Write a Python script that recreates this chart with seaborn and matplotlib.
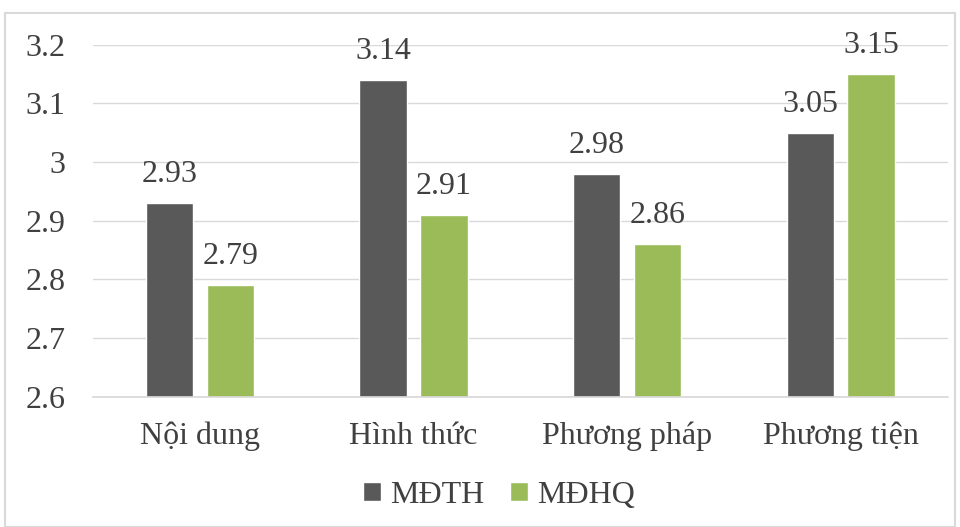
import seaborn as sns
import matplotlib.pyplot as plt
import pandas as pd
from matplotlib.patches import Rectangle
from matplotlib.ticker import FuncFormatter

categories = ['Nội dung', 'Hình thức', 'Phương pháp', 'Phương tiện']
mdth = [2.93, 3.14, 2.98, 3.05]
mdhq = [2.79, 2.91, 2.86, 3.15]
series = ['MĐTH', 'MĐHQ']
colors = ['#595959', '#9BBB59']

df = pd.DataFrame({
    'cat': categories * 2,
    'val': mdth + mdhq,
    'series': [series[0]] * 4 + [series[1]] * 4,
})

sns.set_theme(style='white')
plt.rcParams['font.family'] = ['Liberation Serif', 'DejaVu Serif']
text_col = '#404040'
fs = 23

fig = plt.figure(figsize=(9.6, 5.27), dpi=100)
ax = fig.add_axes([0.097, 0.247, 0.89, 0.668])

sns.barplot(data=df, x='cat', y='val', hue='series', palette=colors,
            width=0.57, gap=0.22, ax=ax, saturation=1, legend=True)

ax.set_ylim(2.6, 3.2)
ax.set_yticks([2.6, 2.7, 2.8, 2.9, 3.0, 3.1, 3.2])
ax.yaxis.set_major_formatter(FuncFormatter(lambda v, p: f'{v:g}'))
ax.grid(axis='y', color='#d9d9d9', linewidth=1)
ax.set_axisbelow(True)
for s in ['left', 'right', 'top']:
    ax.spines[s].set_visible(False)
ax.spines['bottom'].set_color('#d9d9d9')
ax.tick_params(axis='both', labelsize=fs, colors=text_col, length=0)
ax.tick_params(axis='x', pad=18)
ax.tick_params(axis='y', pad=20)
ax.set_xlabel('')
ax.set_ylabel('')

for cont in ax.containers:
    ax.bar_label(cont, labels=[f'{v:.2f}' for v in cont.datavalues],
                 padding=10, fontsize=fs, color=text_col)

ax.legend(loc='center', bbox_to_anchor=(0.475, -0.28), ncol=2, frameon=False,
          fontsize=fs, labelcolor=text_col, handlelength=0.55, handleheight=0.55,
          handletextpad=0.3, columnspacing=0.8)

fig.patches.append(Rectangle((0.005, 0.0), 0.99, 0.975, transform=fig.transFigure,
                             fill=False, edgecolor='#d9d9d9', linewidth=1.5))

fig.savefig('out.png', dpi=100)
